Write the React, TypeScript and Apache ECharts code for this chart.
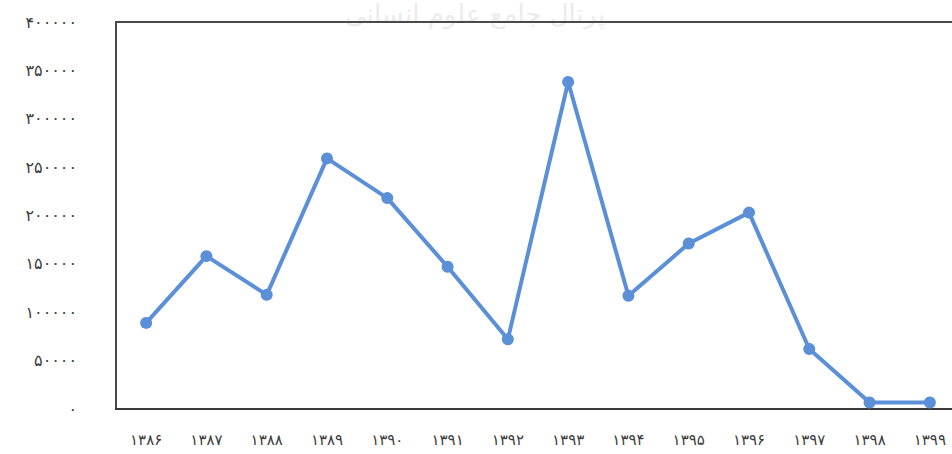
import React, { useEffect, useRef } from "react";
import * as echarts from "echarts";

const categories = ["۱۳۸۶", "۱۳۸۷", "۱۳۸۸", "۱۳۸۹", "۱۳۹۰", "۱۳۹۱", "۱۳۹۲", "۱۳۹۳", "۱۳۹۴", "۱۳۹۵", "۱۳۹۶", "۱۳۹۷", "۱۳۹۸", "۱۳۹۹"];
const values = [89000, 158000, 118000, 259000, 218000, 147000, 72000, 338000, 117000, 171000, 203000, 62000, 6700, 6700];
const yMin = 0;
const yMax = 400000;
const yStep = 50000;
const watermark = "پرتال جامع علوم انسانی";

const persianDigits = ["۰", "۱", "۲", "۳", "۴", "۵", "۶", "۷", "۸", "۹"];
const toPersian = (s: string) => s.replace(/[0-9]/g, (d) => persianDigits[Number(d)]);

export default function App() {
  const ref = useRef<HTMLDivElement>(null);
  useEffect(() => {
    if (!ref.current) return;
    const chart = echarts.init(ref.current, null, { renderer: "svg" });
    chart.setOption({
      animation: false,
      backgroundColor: "#ffffff",
      textStyle: { fontFamily: "DejaVu Sans" },
      graphic: [
        {
          type: "text",
          left: 345,
          top: 1,
          z: -10,
          style: {
            text: watermark,
            fill: "#ececec",
            font: "26px 'DejaVu Sans'",
          },
        },
      ],
      grid: {
        left: 116,
        top: 22,
        bottom: 45,
        right: 20,
        show: true,
        borderColor: "#4a4a4a",
        borderWidth: 2,
        backgroundColor: "transparent",
      },
      xAxis: {
        type: "category",
        data: categories,
        boundaryGap: true,
        axisLine: { show: true, lineStyle: { color: "#3a3a3a", width: 2 } },
        axisTick: { show: false },
        axisLabel: { color: "#3c3c3c", fontSize: 15, margin: 23, interval: 0 },
        splitLine: { show: false },
      },
      yAxis: {
        type: "value",
        min: yMin,
        max: yMax,
        interval: yStep,
        axisLine: { show: false },
        axisTick: { show: false },
        splitLine: { show: false },
        axisLabel: {
          color: "#3c3c3c",
          fontSize: 16,
          margin: 39,
          formatter: (v: number) => toPersian(String(v)),
        },
      },
      series: [
        {
          type: "line",
          data: values,
          symbol: "circle",
          symbolSize: 12,
          lineStyle: { color: "#5b8fd8", width: 4 },
          itemStyle: { color: "#5b8fd8" },
        },
      ],
    });
    return () => chart.dispose();
  }, []);
  return (
    <div
      ref={ref}
      style={{ position: "fixed", left: 0, top: 0, width: 980, height: 454 }}
    />
  );
}
